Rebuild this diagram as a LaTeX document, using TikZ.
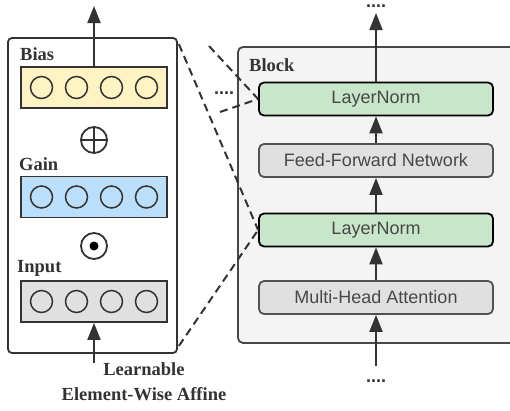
\documentclass[tikz,border=0pt]{standalone}
\usepackage{fontspec}
\setmainfont{Liberation Serif}
\setsansfont{Liberation Sans}
\usetikzlibrary{arrows.meta,positioning}
\definecolor{ink}{HTML}{333333}
\definecolor{biasfill}{HTML}{FFF3C4}
\definecolor{gainfill}{HTML}{BBDEFB}
\definecolor{normfill}{HTML}{C8E6C9}
\definecolor{opfill}{HTML}{E0E0E0}
\definecolor{blockfill}{HTML}{F4F4F4}
\tikzset{
  vec/.style={draw=ink, line width=1.8pt, minimum width=146pt, minimum height=41pt, inner sep=0},
  unit/.style={circle, draw=ink, line width=1.5pt, minimum size=22pt, inner sep=0},
  layer/.style={draw=ink!85, fill=opfill, line width=1.8pt, rounded corners=5pt, minimum width=234pt,
    minimum height=33pt, inner sep=0, font=\sffamily\fontsize{18}{20}\selectfont, text=ink!90},
  norm/.style={layer, fill=normfill, draw=black},
  tag/.style={font=\bfseries\fontsize{18.5}{20}\selectfont, text=ink, anchor=base west, inner sep=0},
  dots/.style={font=\sffamily\bfseries\fontsize{18}{20}\selectfont, text=ink, anchor=base, inner sep=0},
  flow/.style={-{Triangle[length=17pt,width=13pt]}, line width=2pt, draw=ink},
  zoomline/.style={dash pattern=on 8pt off 5pt, line width=2pt, draw=ink},
}
\begin{document}
\begin{tikzpicture}[x=1pt,y=-1pt]
\clip (0,0) rectangle (510,410);
% transformer block
\node[draw=ink!90, fill=blockfill, line width=1.8pt, rounded corners=5pt,
  minimum width=287pt, minimum height=296pt] (block) at (381.5,195) {};
\node[tag] (blocktag) at (249,71) {Block};
\node[layer] (mha) at (376,297.5) {Multi-Head Attention};
\node[norm] (norm2) at (376,230) {LayerNorm};
\node[layer] (ffn) at (376,160.5) {Feed-Forward Network};
\node[norm] (norm1) at (376,99) {LayerNorm};
\coordinate (blockin) at (376,366);
\coordinate (blockout) at (376,13);
\node[dots] (dotsin) at (376,382) {....};
\node[dots] (dotsout) at (376,7) {....};
\draw[flow] (blockin) -- (mha.south);
\draw[flow] (mha.north) -- (norm2.south);
\draw[flow] (norm2.north) -- (ffn.south);
\draw[flow] (ffn.north) -- (norm1.south);
\draw[flow] (norm1.north) -- (blockout);

% affine part
\node[draw=ink, fill=white, line width=1.8pt, rounded corners=4pt,
  minimum width=169pt, minimum height=315pt] (affine) at (92.5,195.5) {};
\node[vec, fill=biasfill] (bias) at (94,87.5) {};
\node[vec, fill=gainfill] (gain) at (94,197) {};
\node[vec, fill=opfill] (input) at (94,301.5) {};
\foreach \row in {bias,gain,input}{
  \foreach \i/\dx in {1/-52.5,2/-17.5,3/17.5,4/52.5}{
    \node[unit] (\row\i) at ([xshift=\dx pt]\row.center) {};
  }
}
\node[tag] (biastag) at (20,60) {Bias};
\node[tag] (gaintag) at (19,170) {Gain};
\node[tag] (inputtag) at (17,272) {Input};
\node[circle, draw=ink, line width=1.8pt, minimum size=26pt, inner sep=0] (plus) at (94,140) {};
\draw[ink, line width=1.8pt] (plus.north) -- (plus.south) (plus.west) -- (plus.east);
\node[circle, draw=ink, line width=1.8pt, minimum size=26pt, inner sep=0] (times) at (94,246) {};
\fill[black] (times.center) circle (4.5);
\coordinate (affinein) at (94,363);
\coordinate (affineout) at (94,6);
\draw[flow] (affinein) -- (input.south);
\draw[flow] (bias.north) -- (affineout);
\node[font=\bfseries\fontsize{18.5}{20}\selectfont, text=ink, anchor=base] (caption1) at (144,375) {Learnable};
\node[font=\bfseries\fontsize{18.5}{20}\selectfont, text=ink, anchor=base] (caption2) at (144,400) {Element-Wise Affine};

% zoom lines
\draw[zoomline] ([shift={(1,7)}]affine.north east) -- (norm2.west);
\draw[zoomline] ([shift={(1,-8)}]affine.south east) -- (norm2.west);
\coordinate (prevtop) at (209,46);
\coordinate (prevbot) at (220,112);
\draw[zoomline] (prevtop) -- (norm1.west);
\draw[zoomline] (prevbot) -- (norm1.west);
\node[dots] (dotsprev) at (224,94) {....};
\end{tikzpicture}
\end{document}
